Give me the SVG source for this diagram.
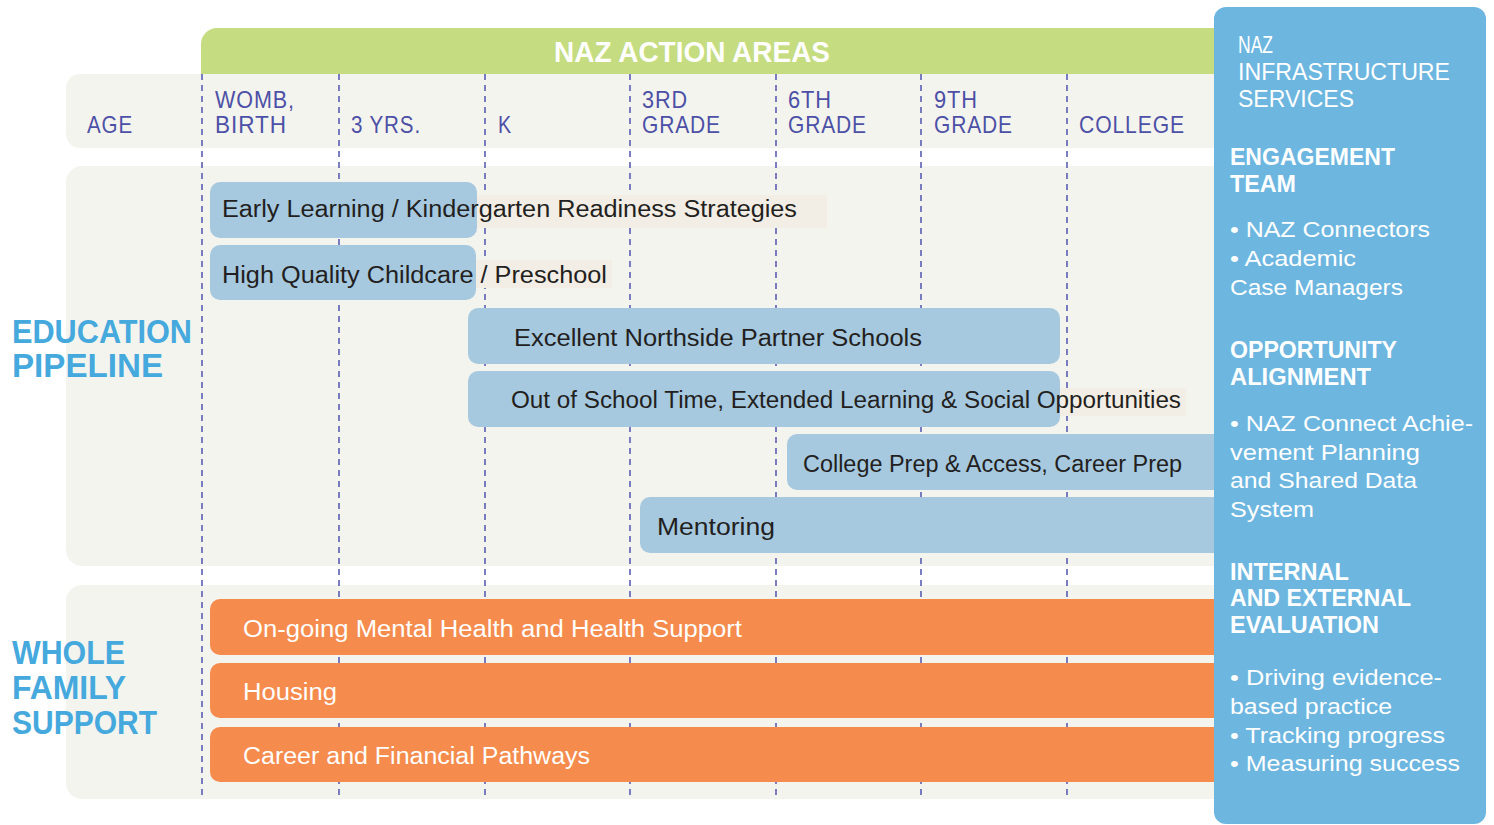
<svg xmlns="http://www.w3.org/2000/svg" width="1494" height="825" viewBox="0 0 1494 825">
<style>
.panel{fill:#f4f4ef}
.hl{fill:#f2eee6}
.bb{fill:#a6c9e0}
.ob{fill:#f58b4c}
.dash{stroke:#5a5eb2;stroke-width:1.6;stroke-dasharray:6 5;fill:none}
.hd{font-family:"Liberation Sans",Arial,sans-serif;font-size:24px;fill:#4c50a6;letter-spacing:1px}
.sec{font-family:"Liberation Sans",Arial,sans-serif;font-weight:bold;font-size:33px;fill:#45a9dd}
.bt{font-family:"Liberation Sans",Arial,sans-serif;font-size:23px;fill:#231f20}
.ot{font-family:"Liberation Sans",Arial,sans-serif;font-size:23px;fill:#ffffff}
.rh{font-family:"Liberation Sans",Arial,sans-serif;font-size:24px;fill:#ffffff}
.rb{font-family:"Liberation Sans",Arial,sans-serif;font-weight:bold;font-size:24px;fill:#ffffff}
.rt{font-family:"Liberation Sans",Arial,sans-serif;font-size:22px;fill:#ffffff}
</style>

<g id="background">
  <path d="M201,74 V44 A16,16 0 0 1 217,28 H1230 V74 Z" fill="#c5dc81"/>
  <rect class="panel" x="66" y="74" width="1164" height="74" rx="14"/>
  <rect class="panel" x="66" y="166" width="1164" height="400" rx="16"/>
  <rect class="panel" x="66" y="585" width="1164" height="214" rx="16"/>
</g>

<g id="connectors">
  <line class="dash" x1="202" y1="74" x2="202" y2="799"/>
  <line class="dash" x1="339" y1="74" x2="339" y2="799"/>
  <line class="dash" x1="485" y1="74" x2="485" y2="799"/>
  <line class="dash" x1="630" y1="74" x2="630" y2="799"/>
  <line class="dash" x1="776" y1="74" x2="776" y2="799"/>
  <line class="dash" x1="921" y1="74" x2="921" y2="799"/>
  <line class="dash" x1="1067" y1="74" x2="1067" y2="799"/>
</g>

<g id="highlights">
  <rect class="hl" x="470" y="195" width="357" height="33"/>
  <rect class="hl" x="470" y="260" width="142" height="28"/>
  <rect class="hl" x="1050" y="388" width="136" height="28"/>
</g>

<g id="header">
  <text x="554" y="62" font-family="Liberation Sans,Arial,sans-serif" font-weight="bold" font-size="29" fill="#ffffff" textLength="276" lengthAdjust="spacingAndGlyphs">NAZ ACTION AREAS</text>
  <text class="hd" x="87" y="133" textLength="46" lengthAdjust="spacingAndGlyphs">AGE</text>
  <text class="hd" x="215" y="108" textLength="80" lengthAdjust="spacingAndGlyphs">WOMB,</text>
  <text class="hd" x="215" y="133" textLength="72" lengthAdjust="spacingAndGlyphs">BIRTH</text>
  <text class="hd" x="351" y="133" textLength="70" lengthAdjust="spacingAndGlyphs">3 YRS.</text>
  <text class="hd" x="498" y="133" textLength="14" lengthAdjust="spacingAndGlyphs">K</text>
  <text class="hd" x="642" y="108" textLength="46" lengthAdjust="spacingAndGlyphs">3RD</text>
  <text class="hd" x="642" y="133" textLength="79" lengthAdjust="spacingAndGlyphs">GRADE</text>
  <text class="hd" x="788" y="108" textLength="44" lengthAdjust="spacingAndGlyphs">6TH</text>
  <text class="hd" x="788" y="133" textLength="79" lengthAdjust="spacingAndGlyphs">GRADE</text>
  <text class="hd" x="934" y="108" textLength="44" lengthAdjust="spacingAndGlyphs">9TH</text>
  <text class="hd" x="934" y="133" textLength="79" lengthAdjust="spacingAndGlyphs">GRADE</text>
  <text class="hd" x="1079" y="133" textLength="106" lengthAdjust="spacingAndGlyphs">COLLEGE</text>
</g>

<g id="section-labels">
  <text class="sec" x="12" y="343" textLength="180" lengthAdjust="spacingAndGlyphs">EDUCATION</text>
  <text class="sec" x="12" y="377" textLength="151" lengthAdjust="spacingAndGlyphs">PIPELINE</text>
  <text class="sec" x="12" y="664" textLength="113" lengthAdjust="spacingAndGlyphs">WHOLE</text>
  <text class="sec" x="12" y="699" textLength="114" lengthAdjust="spacingAndGlyphs">FAMILY</text>
  <text class="sec" x="12" y="734" textLength="145" lengthAdjust="spacingAndGlyphs">SUPPORT</text>
</g>

<g id="bar-early-learning">
  <rect class="bb" x="210" y="182" width="267" height="56" rx="10"/>
  <text class="bt" x="222" y="217" textLength="575" lengthAdjust="spacingAndGlyphs">Early Learning / Kindergarten Readiness Strategies</text>
</g>
<g id="bar-childcare">
  <rect class="bb" x="210" y="245" width="266" height="55" rx="10"/>
  <text class="bt" x="222" y="283" textLength="385" lengthAdjust="spacingAndGlyphs">High Quality Childcare / Preschool</text>
</g>
<g id="bar-partner-schools">
  <rect class="bb" x="468" y="308" width="592" height="56" rx="10"/>
  <text class="bt" x="514" y="346" textLength="408" lengthAdjust="spacingAndGlyphs">Excellent Northside Partner Schools</text>
</g>
<g id="bar-out-of-school">
  <rect class="bb" x="468" y="371" width="592" height="56" rx="10"/>
  <text class="bt" x="511" y="408" textLength="670" lengthAdjust="spacingAndGlyphs">Out of School Time, Extended Learning &amp; Social Opportunities</text>
</g>
<g id="bar-college-prep">
  <rect class="bb" x="787" y="434" width="443" height="56" rx="10"/>
  <text class="bt" x="803" y="472" textLength="379" lengthAdjust="spacingAndGlyphs">College Prep &amp; Access, Career Prep</text>
</g>
<g id="bar-mentoring">
  <rect class="bb" x="640" y="497" width="590" height="56" rx="10"/>
  <text class="bt" x="657" y="535" textLength="118" lengthAdjust="spacingAndGlyphs">Mentoring</text>
</g>

<g id="bar-mental-health">
  <rect class="ob" x="210" y="599" width="1020" height="56" rx="10"/>
  <text class="ot" x="243" y="637" textLength="499" lengthAdjust="spacingAndGlyphs">On-going Mental Health and Health Support</text>
</g>
<g id="bar-housing">
  <rect class="ob" x="210" y="663" width="1020" height="55" rx="10"/>
  <text class="ot" x="243" y="700" textLength="94" lengthAdjust="spacingAndGlyphs">Housing</text>
</g>
<g id="bar-career">
  <rect class="ob" x="210" y="727" width="1020" height="55" rx="10"/>
  <text class="ot" x="243" y="764" textLength="347" lengthAdjust="spacingAndGlyphs">Career and Financial Pathways</text>
</g>

<g id="infrastructure-panel">
  <rect x="1214" y="7" width="272" height="817" rx="12" fill="#6cb6e0"/>
  <text class="rh" x="1238" y="53" textLength="35" lengthAdjust="spacingAndGlyphs">NAZ</text>
  <text class="rh" x="1238" y="80" textLength="212" lengthAdjust="spacingAndGlyphs">INFRASTRUCTURE</text>
  <text class="rh" x="1238" y="107" textLength="116" lengthAdjust="spacingAndGlyphs">SERVICES</text>

  <text class="rb" x="1230" y="165" textLength="165" lengthAdjust="spacingAndGlyphs">ENGAGEMENT</text>
  <text class="rb" x="1230" y="192" textLength="66" lengthAdjust="spacingAndGlyphs">TEAM</text>
  <text class="rt" x="1230" y="237" textLength="200" lengthAdjust="spacingAndGlyphs">• NAZ Connectors</text>
  <text class="rt" x="1230" y="266" textLength="126" lengthAdjust="spacingAndGlyphs">• Academic</text>
  <text class="rt" x="1230" y="295" textLength="173" lengthAdjust="spacingAndGlyphs">Case Managers</text>

  <text class="rb" x="1230" y="358" textLength="167" lengthAdjust="spacingAndGlyphs">OPPORTUNITY</text>
  <text class="rb" x="1230" y="385" textLength="141" lengthAdjust="spacingAndGlyphs">ALIGNMENT</text>
  <text class="rt" x="1230" y="431" textLength="243" lengthAdjust="spacingAndGlyphs">• NAZ Connect Achie-</text>
  <text class="rt" x="1230" y="460" textLength="190" lengthAdjust="spacingAndGlyphs">vement Planning</text>
  <text class="rt" x="1230" y="488" textLength="187" lengthAdjust="spacingAndGlyphs">and Shared Data</text>
  <text class="rt" x="1230" y="517" textLength="84" lengthAdjust="spacingAndGlyphs">System</text>

  <text class="rb" x="1230" y="580" textLength="119" lengthAdjust="spacingAndGlyphs">INTERNAL</text>
  <text class="rb" x="1230" y="606" textLength="181" lengthAdjust="spacingAndGlyphs">AND EXTERNAL</text>
  <text class="rb" x="1230" y="633" textLength="149" lengthAdjust="spacingAndGlyphs">EVALUATION</text>
  <text class="rt" x="1230" y="685" textLength="212" lengthAdjust="spacingAndGlyphs">• Driving evidence-</text>
  <text class="rt" x="1230" y="714" textLength="162" lengthAdjust="spacingAndGlyphs">based practice</text>
  <text class="rt" x="1230" y="743" textLength="215" lengthAdjust="spacingAndGlyphs">• Tracking progress</text>
  <text class="rt" x="1230" y="771" textLength="230" lengthAdjust="spacingAndGlyphs">• Measuring success</text>
</g>
</svg>
